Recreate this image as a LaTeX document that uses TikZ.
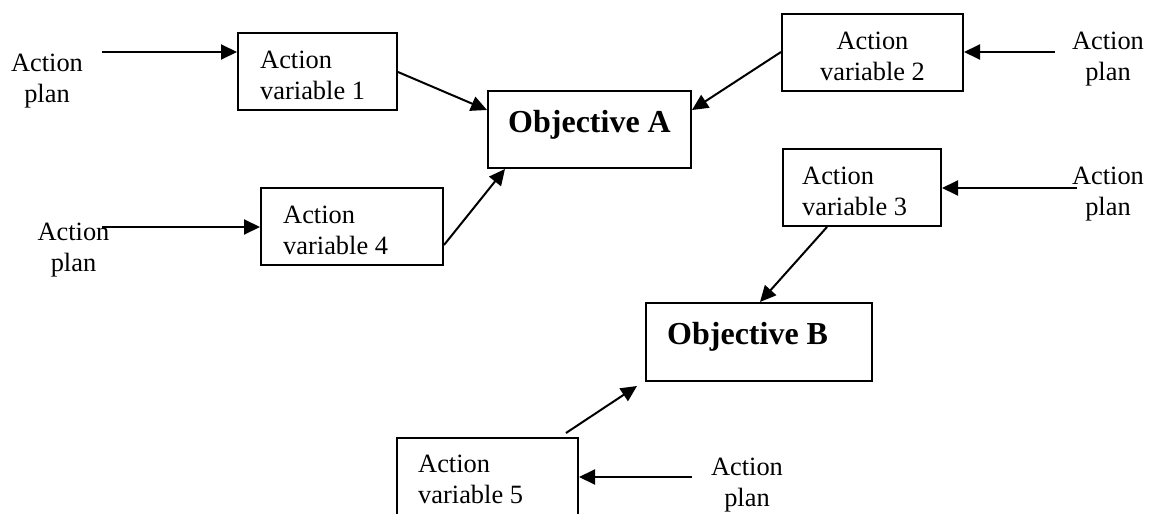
\documentclass[tikz,border=0pt]{standalone}
\usepackage{fontspec}
\setmainfont{Liberation Serif}
\usetikzlibrary{arrows.meta}
\newcommand\mytop{\rule{0pt}{20pt}}
\begin{document}
\begin{tikzpicture}[x=1pt,y=-1pt,
  box/.style={draw=black,line width=2pt,rectangle,inner sep=0pt,minimum height=77pt},
  txtl/.style={inner sep=0pt,align=left,anchor=north west,font=\fontsize{26.4}{31}\selectfont},
  txtc/.style={inner sep=0pt,align=center,anchor=north,font=\fontsize{26.4}{31}\selectfont},
  txtb/.style={inner sep=0pt,anchor=base west,font=\fontsize{32}{38}\selectfont\bfseries},
  arr/.style={line width=2pt,-{Triangle[length=16pt,width=15pt]}}]
\useasboundingbox (0,0) rectangle (1152,514);
\fill[white] (0,0) rectangle (1152,514);
% boxes
\node[box,minimum width=159pt] (v1) at (317.5,71.5) {};
\node[box,minimum width=182pt] (v4) at (352,226.5) {};
\node[box,minimum width=203pt] (oa) at (589.5,129.5) {};
\node[box,minimum width=181pt] (v2) at (872.5,52.5) {};
\node[box,minimum width=158pt] (v3) at (862,187.5) {};
\node[box,minimum width=226pt,minimum height=78pt] (ob) at (759,342) {};
\node[box,minimum width=181pt,minimum height=80pt] (v5) at (487.5,478) {};
% texts in boxes
\node[txtl] (t1) at (260,48) {\mytop Action\\variable 1};
\node[txtl] (t4) at (283,203) {\mytop Action\\variable 4};
\node[txtc] (t2) at (872.5,29) {\mytop Action\\variable 2};
\node[txtl] (t3) at (802,164) {\mytop Action\\variable 3};
\node[txtl] (t5) at (418,452) {\mytop Action\\variable 5};
\node[txtb] (ta) at (508,132) {Objective A};
\node[txtb] (tb) at (667,344) {Objective B};
% action plan labels
\node[txtc] (p1) at (47,51) {\mytop Action\\plan};
\node[txtc] (p4) at (73.5,220) {\mytop Action\\plan};
\node[txtc] (p2) at (1108,29) {\mytop Action\\plan};
\node[txtc] (p3) at (1108,164) {\mytop Action\\plan};
\node[txtc] (p5) at (747,455) {\mytop Action\\plan};
% arrow start points
\coordinate (s1) at (102,52);
\coordinate (s4) at (102,227);
\coordinate (s2) at (1055,52);
\coordinate (s3) at (1077,188);
\coordinate (s5) at (692,477);
\draw[arr] (s1) -- (s1 -| v1.west);
\draw[arr] (s4) -- (s4 -| v4.west);
\draw[arr] (s2) -- (s2 -| v2.east);
\draw[arr] (s3) -- (s3 -| v3.east);
\draw[arr] (s5) -- (s5 -| v5.east);
% to objectives
\draw[arr] (v1.east |- 0,72) -- (oa.west |- 0,110);
\draw[arr] (v4.east |- 0,245) -- (oa.south -| 505,0);
\draw[arr] (v2.west |- 0,52) -- (oa.east |- 0,110);
\draw[arr] (v3.south -| 827,0) -- (ob.north -| 760,0);
\coordinate (e5a) at (566,433);
\coordinate (e5b) at (637,386);
\draw[arr] (e5a) -- (e5b);
\end{tikzpicture}
\end{document}
